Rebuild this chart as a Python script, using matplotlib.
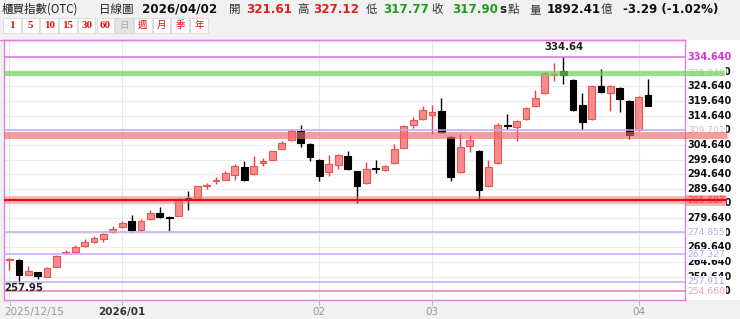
"""Daily candlestick chart of the OTC index (櫃買指數) with support/resistance levels."""

import matplotlib

matplotlib.use("Agg")
import matplotlib.pyplot as plt
from matplotlib.patches import Rectangle
from matplotlib.transforms import blended_transform_factory

# ---- data ----
opens = [265.4, 265.4, 260.4, 261.2, 259.7, 263.1, 267.7, 268.0, 270.1, 271.5,
         272.6, 274.8, 276.5, 278.5, 275.6, 279.2, 281.5, 280.2, 280.5, 286.6,
         285.9, 290.6, 292.3, 292.8, 294.2, 297.1, 294.6, 298.6, 299.6, 303.4,
         306.2, 309.3, 305.1, 299.6, 295.4, 297.9, 300.9, 295.7, 291.6, 296.9,
         296.2, 298.3, 303.7, 311.6, 313.4, 315.0, 316.3, 307.4, 295.4, 304.2,
         302.6, 290.5, 298.3, 311.5, 310.8, 313.4, 317.9, 322.2, 328.6, 330.0,
         326.8, 318.2, 313.4, 324.8, 322.2, 324.1, 319.6, 309.6, 321.61]
highs = [266.0, 265.8, 263.4, 261.4, 263.1, 267.0, 268.8, 270.6, 272.4, 273.4,
         274.6, 277.1, 278.8, 280.8, 279.4, 282.5, 283.6, 280.4, 286.5, 288.9,
         290.7, 291.6, 293.6, 295.7, 298.0, 299.0, 300.7, 300.2, 302.6, 306.0,
         310.0, 311.4, 305.3, 299.8, 301.1, 301.5, 302.5, 295.9, 298.8, 299.4,
         297.7, 305.1, 311.5, 314.0, 317.8, 318.2, 320.8, 307.6, 308.2, 307.9,
         302.8, 299.6, 312.0, 315.1, 313.0, 317.5, 323.3, 329.5, 332.5, 334.64,
         327.0, 322.2, 325.1, 330.5, 325.0, 324.4, 319.8, 321.4, 327.12]
lows = [261.8, 257.95, 260.3, 258.9, 259.5, 262.9, 267.5, 267.8, 269.9, 271.3,
        271.6, 274.6, 276.3, 275.0, 275.4, 279.0, 279.8, 275.4, 280.3, 282.3,
        285.7, 289.7, 291.4, 292.6, 292.5, 292.2, 294.4, 297.4, 299.4, 303.2,
        306.0, 303.9, 299.1, 292.3, 293.9, 296.3, 296.0, 284.7, 291.4, 295.1,
        295.6, 298.1, 303.5, 310.4, 313.2, 308.4, 308.6, 292.3, 295.2, 302.2,
        285.7, 290.3, 298.0, 310.0, 305.9, 313.2, 317.7, 322.0, 326.4, 325.3,
        316.3, 309.6, 313.2, 322.4, 316.2, 315.9, 306.8, 309.4, 317.77]
closes = [265.6, 260.4, 261.7, 259.8, 262.6, 266.8, 268.2, 269.7, 271.6, 272.7,
          274.3, 275.9, 277.9, 275.5, 278.8, 281.3, 280.0, 279.7, 286.3, 286.0,
          290.5, 290.9, 292.7, 295.0, 297.6, 292.6, 297.6, 299.0, 302.4, 305.3,
          309.5, 305.3, 300.5, 293.9, 298.0, 301.3, 296.3, 290.5, 296.5, 296.5,
          297.5, 303.4, 311.2, 313.1, 316.5, 315.9, 309.1, 293.7, 303.9, 306.2,
          289.1, 297.1, 311.6, 311.2, 312.7, 317.1, 320.8, 329.1, 329.0, 328.6,
          316.6, 312.5, 324.8, 322.6, 324.8, 320.3, 308.0, 321.1, 317.90]

month_idx = [0, 12, 33, 45, 67]
month_labels = ["2025/12/15", "2026/01", "02", "03", "04"]

tick_values = [334.64 - 5 * k for k in range(17)]
# ticks whose label is fully hidden behind a level label (only the last "0" shows)
hidden_ticks = [329.64, 309.64, 274.64, 254.64]

line_levels = [334.64, 309.701, 274.855, 267.327, 257.911, 254.660]
line_colors = ["#e070e0", "#c4a8f2", "#c4a8f2", "#c4a8f2", "#c4a8f2", "#f07aa8"]
level_labels = ["329.049", "309.701", "274.855", "267.327", "257.911", "254.660"]
level_label_values = [329.049, 309.701, 274.855, 267.327, 257.911, 254.660]
level_label_colors = ["#c8c8c8", "#d6bcc4", "#c0b0e4", "#b8a8e4", "#b4a4e4", "#f0a0bc"]

green_level = 329.049
band_level = 307.9
red_level = 285.687

hi_value, hi_idx = 334.64, 59
lo_value, lo_idx = 257.95, 1

header_items = [
    ("櫃買指數(OTC)", 2, "#222222", "normal"),
    ("日線圖", 99, "#222222", "normal"),
    ("2026/04/02", 142, "#111111", "bold"),
    ("開", 229, "#333333", "normal"),
    ("321.61", 246, "#e0201c", "bold"),
    ("高", 297, "#333333", "normal"),
    ("327.12", 313, "#e0201c", "bold"),
    ("低", 366, "#333333", "normal"),
    ("317.77", 383, "#1f9a1f", "bold"),
    ("收", 431, "#333333", "normal"),
    ("317.90", 452, "#1f9a1f", "bold"),
    ("s", 499, "#222222", "bold"),
    ("點", 508, "#333333", "normal"),
    ("量", 529, "#333333", "normal"),
    ("1892.41", 547, "#111111", "bold"),
    ("億", 601, "#333333", "normal"),
    ("-3.29 (-1.02%)", 623, "#111111", "bold"),
]
button_labels = ["1", "5", "10", "15", "30", "60", "日", "週", "月", "季", "年"]

# ---- layout helpers (pixel -> figure fraction) ----
W, H = 740, 319


def fx(px):
    return px / W


def fy(py):
    return 1 - py / H


CJK = ["Noto Sans CJK TC", "DejaVu Sans"]
AX_L, AX_R, AX_T, AX_B = 4, 685, 40, 300
PX_PER_BAR = 9.39
PX_PER_PT = 2.93

fig = plt.figure(figsize=(W / 100, H / 100), dpi=100)
fig.patch.set_facecolor("#f1f1f1")

# white strip behind the right-hand price labels
fig.patches.append(Rectangle((fx(AX_R), fy(AX_B)), fx(W - AX_R), fy(AX_T) - fy(AX_B),
                             transform=fig.transFigure, facecolor="white",
                             edgecolor="none", zorder=-5))

ax = fig.add_axes([fx(AX_L), fy(AX_B), fx(AX_R - AX_L), fy(AX_T) - fy(AX_B)])
ax.set_facecolor("white")
x_left = -(9.5 - AX_L) / PX_PER_BAR
x_right = 68 + (AX_R - 648) / PX_PER_BAR
ax.set_xlim(x_left, x_right)
ax.set_ylim(334.64 - (AX_B - 57) / PX_PER_PT, 334.64 + (57 - AX_T) / PX_PER_PT)
for s in ax.spines.values():
    s.set_color("#e27ce2")
    s.set_linewidth(1.0)
ax.set_xticks([])
ax.set_yticks([])

# grid
for v in tick_values:
    ax.axhline(v, color="#ececec", linewidth=0.8, zorder=0)
for i in month_idx:
    ax.axvline(i, color="#e6e6e6", linewidth=0.8, zorder=0)

# candles
n = len(opens)
body_w = 0.72
for i in range(n):
    o, h, l, c = opens[i], highs[i], lows[i], closes[i]
    up = c >= o
    wick_col = "#ee3b3b" if up else "#000000"
    ax.vlines(i, l, h, color=wick_col, linewidth=1.0, zorder=2)
    bottom = min(o, c)
    height = max(abs(c - o), 0.25)
    if up:
        ax.bar(i, height, bottom=bottom, width=body_w, color="#f78b8b",
               edgecolor="#ec5555", linewidth=0.8, zorder=3)
    else:
        ax.bar(i, height, bottom=bottom, width=body_w, color="#000000",
               edgecolor="#000000", linewidth=0.8, zorder=3)

# level lines
for v, col in zip(line_levels, line_colors):
    ax.axhline(v, color=col, linewidth=1.1, zorder=4)

# right-hand labels
tr = blended_transform_factory(ax.transAxes, ax.transData)
lab_x = (687 - AX_L) / (AX_R - AX_L)
zero_x = (724 - AX_L) / (AX_R - AX_L)
for v in tick_values:
    if any(abs(v - hv) < 1e-6 for hv in hidden_ticks):
        ax.text(zero_x, v, "0", transform=tr, ha="left", va="center",
                fontsize=7, fontweight="bold", color="#111111", clip_on=False, zorder=5)
        continue
    col = "#e030d8" if abs(v - 334.64) < 1e-6 else "#111111"
    ax.text(lab_x, v, f"{v:.3f}", transform=tr, ha="left", va="center",
            fontsize=7, fontweight="bold", color=col, clip_on=False, zorder=5)
for txt, v, col in zip(level_labels, level_label_values, level_label_colors):
    ax.text(lab_x, v, txt, transform=tr, ha="left", va="center", fontsize=6.6,
            color=col, clip_on=False, zorder=6,
            bbox=dict(boxstyle="square,pad=0.12", facecolor="white", edgecolor="none"))
ax.text(lab_x, red_level, "285.687", transform=tr, ha="left", va="center",
        fontsize=6.6, color="#e01818", clip_on=False, zorder=6,
        bbox=dict(boxstyle="square,pad=0.12", facecolor="#f7b4b4", edgecolor="none"))

# bands (drawn over candles and labels, partly transparent)
band_end = (727 - AX_L) / (AX_R - AX_L)
ax.plot([0, band_end - 0.004], [green_level, green_level], transform=tr,
        color="#6ed65a", linewidth=3.8, alpha=0.7, clip_on=False, zorder=7,
        solid_capstyle="butt")
ax.plot([0, band_end], [band_level, band_level], transform=tr,
        color="#ee6a6a", linewidth=5.0, alpha=0.65, clip_on=False, zorder=7,
        solid_capstyle="butt")
ax.plot([0, band_end], [red_level, red_level], transform=tr,
        color="#f07878", linewidth=5.5, alpha=0.55, clip_on=False, zorder=7,
        solid_capstyle="butt")
ax.plot([0, band_end], [red_level, red_level], transform=tr,
        color="#e41010", linewidth=1.6, clip_on=False, zorder=7,
        solid_capstyle="butt")

# high / low annotations
ax.text(hi_idx, hi_value + 1.6, f"{hi_value:.2f}", ha="center", va="bottom",
        fontsize=7.3, fontweight="bold", color="#222222", zorder=8)
ax.text(lo_idx + 0.55, lo_value - 0.6, f"{lo_value:.2f}", ha="center", va="top",
        fontsize=7.3, fontweight="bold", color="#222222", zorder=8)

# date labels and small ticks below the plot
for i, lab in zip(month_idx, month_labels):
    px = 9.5 + i * PX_PER_BAR
    fig.add_artist(plt.Line2D([fx(px), fx(px)], [fy(AX_B), fy(AX_B + 5)],
                              color="#bbbbbb", linewidth=0.8))
    bold = lab == "2026/01"
    fig.text(fx(px - 5) if i == 0 else fx(px), fy(312), lab,
             ha="left" if i == 0 else "center", va="center", fontsize=7.5,
             fontweight="bold" if bold else "normal",
             color="#333333" if bold else "#999999")

# header line under the toolbar
fig.add_artist(plt.Line2D([0, fx(AX_R)], [fy(AX_T), fy(AX_T)],
                          color="#e27ce2", linewidth=1.0))

# header text
for txt, px, col, wt in header_items:
    if wt == "bold":
        fig.text(fx(px), fy(9.5), txt, ha="left", va="center", color=col,
                 fontsize=8.6, fontweight="bold", family="DejaVu Sans")
    else:
        fig.text(fx(px), fy(9.5), txt, ha="left", va="center", color=col,
                 fontsize=8.3, family=CJK)

# period buttons
bx = 3.0
bw = 18.7
for lab in button_labels:
    is_day = lab == "日"
    fig.patches.append(Rectangle((fx(bx), fy(33)), fx(bw - 1), fy(18) - fy(33),
                                 transform=fig.transFigure,
                                 facecolor="#e4e4e4" if is_day else "white",
                                 edgecolor="#d8d8d8", linewidth=0.6))
    if lab.isdigit():
        fig.text(fx(bx + bw / 2 - 0.5), fy(25.8), lab, ha="center", va="center",
                 fontsize=8, fontweight="bold", color="#e01010",
                 family="Liberation Serif")
    else:
        fig.text(fx(bx + bw / 2 - 0.5), fy(25.5), lab, ha="center", va="center",
                 fontsize=6.8, color="#aaaaaa" if is_day else "#e01010",
                 family=CJK)
    bx += bw

fig.savefig("out.png", dpi=100, facecolor=fig.get_facecolor())
